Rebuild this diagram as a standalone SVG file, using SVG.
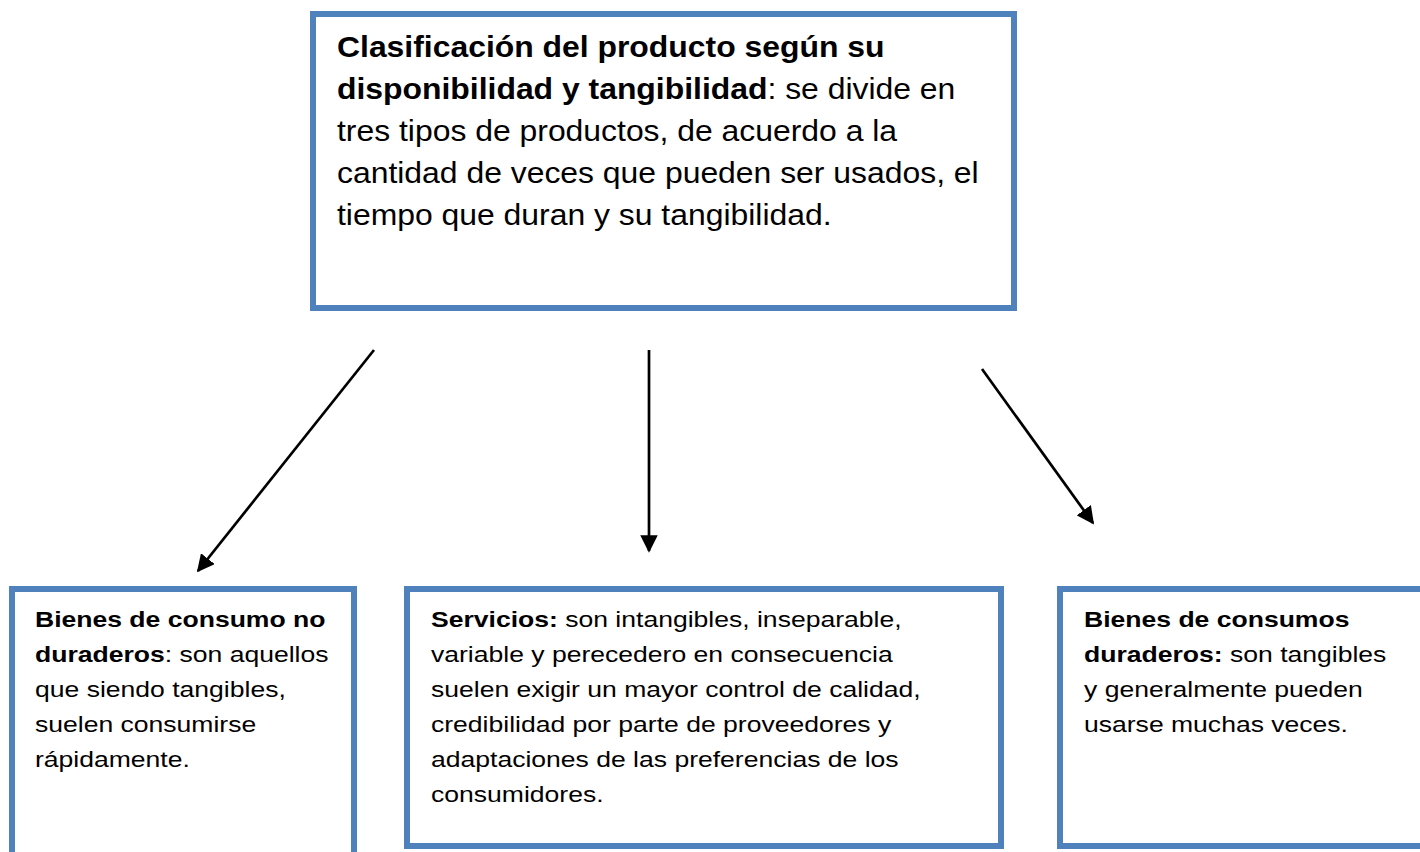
<svg xmlns="http://www.w3.org/2000/svg" width="1420" height="852" viewBox="0 0 1420 852">
<style>
.box{fill:#fff;stroke:#4F81BD;stroke-width:6}
.t{font-family:"Liberation Sans",Arial,sans-serif;fill:#000}
.big{font-size:29px}
.sm{font-size:22.5px}
.b{font-weight:bold}
.conn{stroke:#000;stroke-width:2.7;fill:none}
</style>
<defs>
<marker id="ah" viewBox="0 0 10 10" refX="9" refY="5" markerWidth="6.5" markerHeight="6.5" markerUnits="strokeWidth" orient="auto">
<path d="M0,0 L10,5 L0,10 z" fill="#000"/>
</marker>
</defs>
<rect width="1420" height="852" fill="#fff"/>
<g id="top">
<rect class="box" x="313" y="14" width="701" height="294"/>
<g transform="translate(337,0) scale(1.1,1) translate(-337,0)">
<text class="t big" x="337" y="57"><tspan class="b">Clasificación del producto según su</tspan></text>
<text class="t big" x="337" y="99"><tspan class="b">disponibilidad y tangibilidad</tspan>: se divide en</text>
<text class="t big" x="337" y="141">tres tipos de productos, de acuerdo a la</text>
<text class="t big" x="337" y="183">cantidad de veces que pueden ser usados, el</text>
<text class="t big" x="337" y="225">tiempo que duran y su tangibilidad.</text>
</g>
</g>
<g id="left">
<rect class="box" x="12" y="589" width="342" height="300"/>
<g transform="translate(35,0) scale(1.18,1) translate(-35,0)">
<text class="t sm" x="35" y="627"><tspan class="b">Bienes de consumo no</tspan></text>
<text class="t sm" x="35" y="662"><tspan class="b">duraderos</tspan>: son aquellos</text>
<text class="t sm" x="35" y="697">que siendo tangibles,</text>
<text class="t sm" x="35" y="732">suelen consumirse</text>
<text class="t sm" x="35" y="767">rápidamente.</text>
</g>
</g>
<g id="middle">
<rect class="box" x="407" y="589" width="594" height="257"/>
<g transform="translate(431,0) scale(1.18,1) translate(-431,0)">
<text class="t sm" x="431" y="627"><tspan class="b">Servicios:</tspan> son intangibles, inseparable,</text>
<text class="t sm" x="431" y="662">variable y perecedero en consecuencia</text>
<text class="t sm" x="431" y="697">suelen exigir un mayor control de calidad,</text>
<text class="t sm" x="431" y="732">credibilidad por parte de proveedores y</text>
<text class="t sm" x="431" y="767">adaptaciones de las preferencias de los</text>
<text class="t sm" x="431" y="802">consumidores.</text>
</g>
</g>
<g id="right">
<rect class="box" x="1060" y="589" width="400" height="257"/>
<g transform="translate(1084,0) scale(1.18,1) translate(-1084,0)">
<text class="t sm" x="1084" y="627"><tspan class="b">Bienes de consumos</tspan></text>
<text class="t sm" x="1084" y="662"><tspan class="b">duraderos:</tspan> son tangibles</text>
<text class="t sm" x="1084" y="697">y generalmente pueden</text>
<text class="t sm" x="1084" y="732">usarse muchas veces.</text>
</g>
</g>
<g id="connectors">
<line class="conn" x1="374" y1="350" x2="198" y2="571" marker-end="url(#ah)"/>
<line class="conn" x1="649" y1="350" x2="649" y2="551" marker-end="url(#ah)"/>
<line class="conn" x1="982" y1="369" x2="1093" y2="523" marker-end="url(#ah)"/>
</g>
</svg>
